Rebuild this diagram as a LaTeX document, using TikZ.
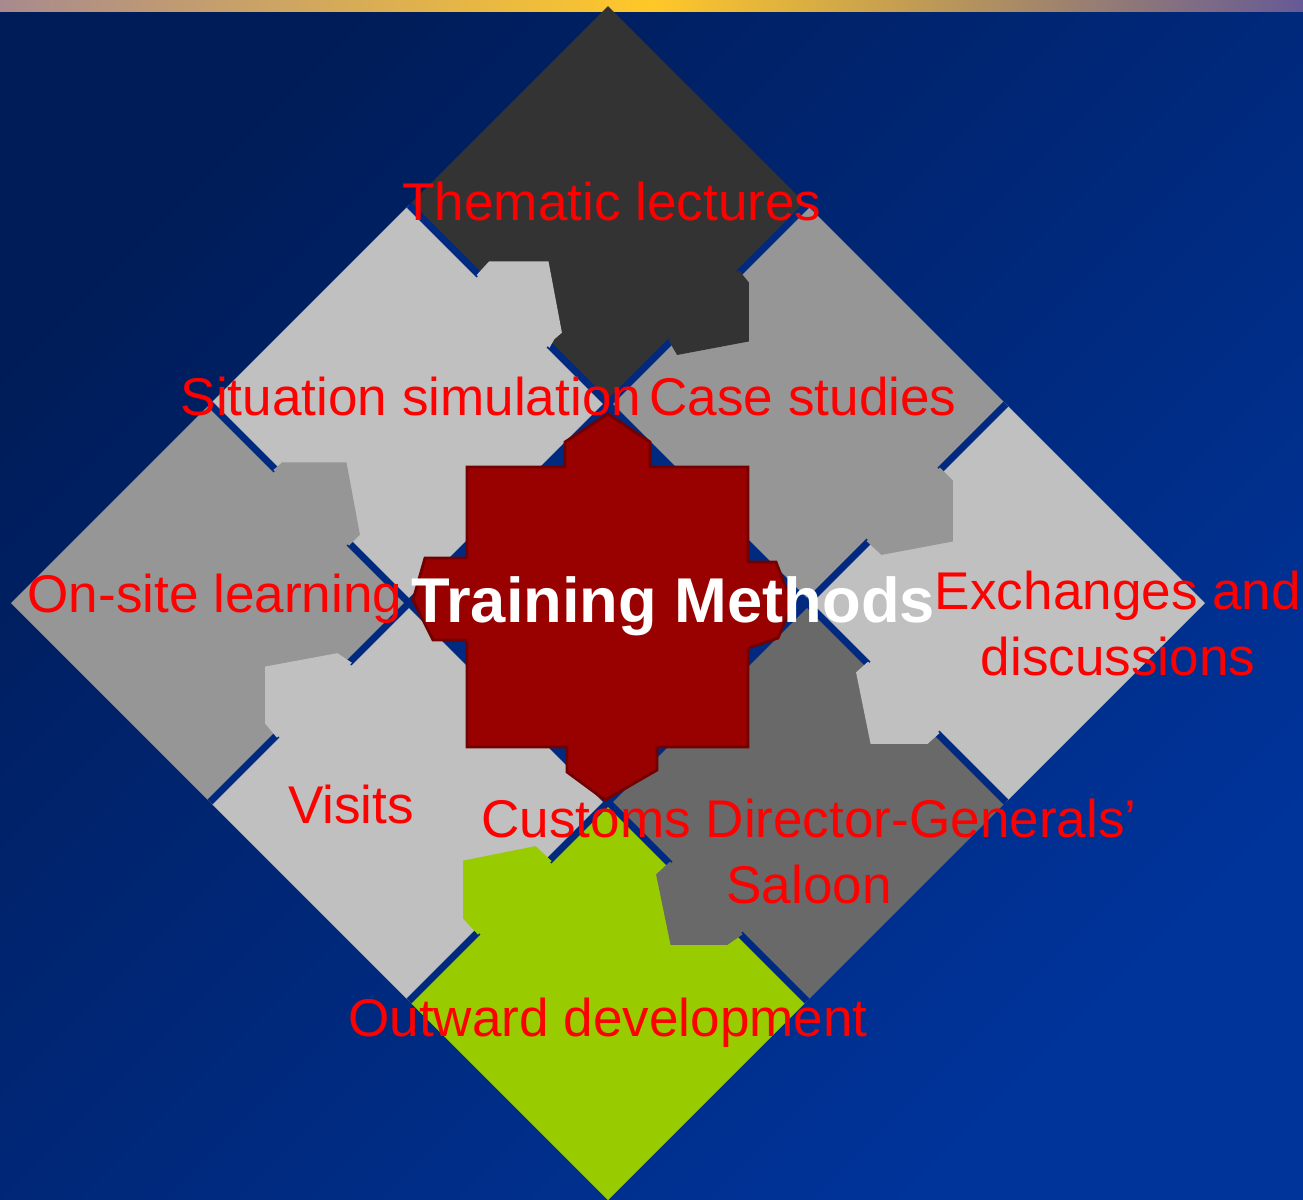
\documentclass[tikz,border=0pt]{standalone}
\usepackage{fontspec}
\setmainfont{Liberation Sans}

\definecolor{bgdark}{RGB}{0,28,88}
\definecolor{bglight}{RGB}{0,52,155}
\definecolor{gapblue}{RGB}{0,42,128}
\definecolor{stripleft}{RGB}{168,138,142}
\definecolor{stripmid}{RGB}{255,200,40}
\definecolor{stripright}{RGB}{102,90,150}
\definecolor{darkpiece}{RGB}{51,51,51}
\definecolor{midpiece}{RGB}{150,150,150}
\definecolor{lightpiece}{RGB}{192,192,192}
\definecolor{slatepiece}{RGB}{105,105,105}
\definecolor{limepiece}{RGB}{153,204,0}
\definecolor{corered}{RGB}{153,0,0}

\begin{document}
\begin{tikzpicture}[
    x=0.01cm, y=-0.01cm,
    gap/.style={draw=gapblue, line width=0.07cm},
    tab/.style={line width=1pt},
    label/.style={text=red, font=\fontsize{15.1}{18.5}\selectfont, align=center, anchor=base, inner sep=0pt}
]

% Background
\useasboundingbox (0,0) rectangle (1303,1199);
\clip (0,0) rectangle (1303,1199);
\shade[top color=bgdark, bottom color=bglight, shading angle=45] (0,0) rectangle (1303,1199);
\shade[left color=stripleft, right color=stripright, middle color=stripmid] (0,0) rectangle (1303,11);

% Lattice corners
\foreach \i in {0,...,3}
  \foreach \j in {0,...,3}
    \coordinate (v\i\j) at ({608+199*(\i-\j)}, {6+199*(\i+\j)});

% Pieces
\fill[darkpiece] (v00) -- (v10) -- (v11) -- (v01) -- cycle;
\fill[midpiece] (v10) -- (v20) -- (v21) -- (v11) -- cycle;
\fill[lightpiece] (v20) -- (v30) -- (v31) -- (v21) -- cycle;
\fill[lightpiece] (v01) -- (v11) -- (v12) -- (v02) -- cycle;
\fill[gapblue] (v11) -- (v21) -- (v22) -- (v12) -- cycle;
\fill[slatepiece] (v21) -- (v31) -- (v32) -- (v22) -- cycle;
\fill[midpiece] (v02) -- (v12) -- (v13) -- (v03) -- cycle;
\fill[lightpiece] (v12) -- (v22) -- (v23) -- (v13) -- cycle;
\fill[limepiece] (v22) -- (v32) -- (v33) -- (v23) -- cycle;

% Gaps
\draw[gap] (v01) -- (479,275) (549,345) -- (v11);
\draw[gap] (v10) -- (739,273) (671,341) -- (v11);
\draw[gap] (v02) -- (276,470) (349,543) -- (v12);
\draw[gap] (v12) -- (349,663) (277,735) -- (v13);
\draw[gap] (v20) -- (940,470) (869,541) -- (v21);
\draw[gap] (v21) -- (868,664) (937,733) -- (v31);
\draw[gap] (v22) -- (670,864) (740,934) -- (v32);
\draw[gap] (v22) -- (549,861) (478,932) -- (v23);
\draw[gap] (v11) -- (v21) -- (v22) -- (v12) -- cycle;

% Tabs
\filldraw[lightpiece, tab] (479,275) -- (490,263) -- (547,263) -- (560,332) -- (553,338) -- (549,345) -- cycle;
\filldraw[darkpiece, tab] (739,273) -- (747,283) -- (747,340) -- (678,353) -- (671,341) -- cycle;
\filldraw[midpiece, tab] (276,470) -- (283,464) -- (345,464) -- (358,534) -- (349,543) -- cycle;
\filldraw[lightpiece, tab] (349,663) -- (337,655) -- (267,668) -- (267,723) -- (277,735) -- cycle;
\filldraw[midpiece, tab] (940,470) -- (951,481) -- (951,540) -- (882,553) -- (869,541) -- cycle;
\filldraw[lightpiece, tab] (868,664) -- (858,673) -- (872,742) -- (927,742) -- (937,733) -- cycle;
\filldraw[slatepiece, tab] (670,864) -- (658,875) -- (672,943) -- (727,943) -- (740,934) -- cycle;
\filldraw[limepiece, tab] (549,861) -- (535,848) -- (465,862) -- (465,918) -- (478,932) -- cycle;

% Centre piece
\filldraw[fill=corered, draw=corered!75!black, line width=0.8pt]
  (467,467) -- (565,467) -- (565,442) -- (608,414) -- (650,442) -- (650,467)
  -- (748,467) -- (748,562) -- (776,562) -- (792,604) -- (778,638) -- (748,648)
  -- (748,747) -- (657,747) -- (657,770) -- (605,800) -- (567,772) -- (567,747)
  -- (467,747) -- (467,640) -- (433,640) -- (413,600) -- (425,558) -- (467,558) -- cycle;

% Labels
\node[label, text=white, font=\fontsize{18}{21}\selectfont\bfseries] (methods) at (673,622) {Training Methods};
\node[label] (thematic) at (612,220) {Thematic lectures};
\node[label] (simulation) at (411,415) {Situation simulation};
\node[label] (cases) at (803,415) {Case studies};
\node[label] (onsite) at (215,612) {On-site learning};
\node[label] (exchanges) at (1118,675) {Exchanges and\\discussions};
\node[label] (visits) at (351,823) {Visits};
\node[label] (saloon) at (809,903) {Customs Director-Generals’\\Saloon};
\node[label] (outward) at (608,1036) {Outward development};

\end{tikzpicture}
\end{document}
